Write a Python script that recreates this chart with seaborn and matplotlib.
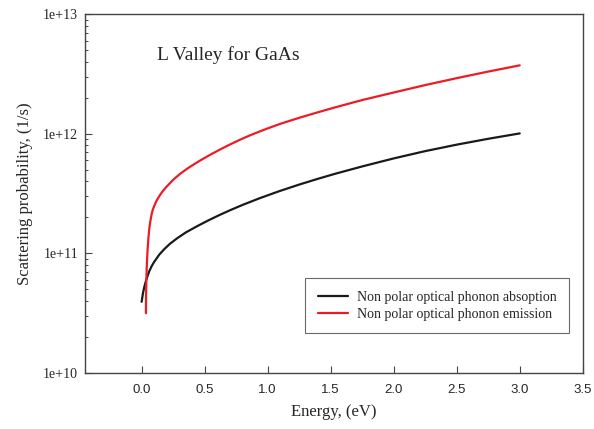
import numpy as np
import pandas as pd
import matplotlib
matplotlib.use("Agg")
import matplotlib.pyplot as plt
import seaborn as sns
from matplotlib.ticker import LogLocator, NullFormatter, FixedLocator

# Data
energy_abs = [0.0, 0.01, 0.02, 0.03, 0.04, 0.06, 0.08, 0.1, 0.14, 0.179, 0.224, 0.28, 0.35, 0.436,
              0.5, 0.543, 0.62, 0.7, 0.8, 0.938, 1.097, 1.255, 1.4, 1.533, 1.75, 2.0, 2.25, 2.5, 2.75, 3.0]
rate_abs = [3.94e10, 4.62e10, 5.19e10, 5.69e10, 6.17e10, 7.08e10, 7.85e10, 8.51e10, 9.77e10, 1.084e11,
            1.202e11, 1.334e11, 1.496e11, 1.679e11, 1.820e11, 1.919e11, 2.099e11, 2.291e11, 2.541e11,
            2.897e11, 3.327e11, 3.776e11, 4.207e11, 4.624e11, 5.333e11, 6.223e11, 7.161e11, 8.110e11,
            9.078e11, 1.007e12]
energy_em = [0.034, 0.035, 0.037, 0.04, 0.043, 0.047, 0.053, 0.06, 0.067, 0.074, 0.082, 0.09, 0.1,
             0.118, 0.135, 0.15, 0.175, 0.2, 0.25, 0.305, 0.364, 0.42, 0.47, 0.55, 0.621, 0.7, 0.78,
             0.86, 0.938, 1.0, 1.097, 1.255, 1.4, 1.533, 1.75, 2.0, 2.25, 2.5, 2.75, 3.0]
rate_em = [3.16e10, 4.37e10, 5.75e10, 7.41e10, 8.91e10, 1.072e11, 1.318e11, 1.585e11, 1.799e11, 1.995e11,
           2.188e11, 2.344e11, 2.495e11, 2.754e11, 2.951e11, 3.126e11, 3.388e11, 3.631e11, 4.121e11,
           4.624e11, 5.129e11, 5.598e11, 6.026e11, 6.730e11, 7.379e11, 8.128e11, 8.913e11, 9.705e11,
           1.047e12, 1.109e12, 1.208e12, 1.365e12, 1.514e12, 1.660e12, 1.914e12, 2.213e12, 2.553e12,
           2.917e12, 3.311e12, 3.733e12]
series_names = ["Non polar optical phonon absoption", "Non polar optical phonon emission"]
x_ticks = [0.0, 0.5, 1.0, 1.5, 2.0, 2.5, 3.0, 3.5]
y_ticks = [1e10, 1e11, 1e12, 1e13]
y_tick_labels = ["1e+10", "1e+11", "1e+12", "1e+13"]
title_text = "L Valley for GaAs"

df = pd.concat([
    pd.DataFrame({"E": energy_abs, "W": rate_abs, "s": series_names[0]}),
    pd.DataFrame({"E": energy_em, "W": rate_em, "s": series_names[1]}),
], ignore_index=True)

sns.set_style("ticks")
plt.rcParams["font.family"] = ["Liberation Serif", "DejaVu Serif"]

fig = plt.figure(figsize=(5.94, 4.29), dpi=100)
ax = fig.add_axes([0.143, 0.1305, 0.838, 0.8365])

palette = {series_names[0]: "#1a1a1a", series_names[1]: "#ec1c24"}
sns.lineplot(data=df, x="E", y="W", hue="s", palette=palette, estimator=None, sort=False,
             linewidth=1.6, ax=ax)

ax.set_yscale("log")
ax.set_xlim(-0.45, 3.5)
ax.set_ylim(1e10, 1e13)

ax.xaxis.set_major_locator(FixedLocator(x_ticks))
ax.set_xticklabels([f"{t:.1f}" for t in x_ticks], fontfamily="Liberation Sans", fontsize=9.5)
ax.yaxis.set_major_locator(FixedLocator(y_ticks))
ax.set_yticklabels(y_tick_labels, fontsize=10)
ax.yaxis.set_minor_locator(LogLocator(base=10, subs=np.arange(2, 10)))
ax.yaxis.set_minor_formatter(NullFormatter())
ax.xaxis.set_minor_locator(FixedLocator([]))

ax.tick_params(axis="both", which="major", direction="in", length=5, width=0.8, color="#444444", pad=5)
ax.tick_params(axis="y", which="minor", direction="in", length=2.5, width=0.7, color="#444444")
ax.tick_params(axis="x", pad=8)
for sp in ax.spines.values():
    sp.set_visible(True)
    sp.set_color("#444444")
    sp.set_linewidth(1.0)

ax.set_xlabel("Energy, (eV)", fontsize=12, labelpad=6)
ax.set_ylabel("Scattering probability, (1/s)", fontsize=12, labelpad=7)

ax.text(0.144, 0.872, title_text, transform=ax.transAxes, fontsize=14, ha="left", va="baseline")

leg = ax.legend(loc="lower right", bbox_to_anchor=(0.972, 0.111), frameon=True, fancybox=False,
                fontsize=10, handlelength=2.2, borderpad=0.9, labelspacing=0.3, borderaxespad=0,
                handletextpad=0.6)
leg.get_frame().set_edgecolor("#444444")
leg.get_frame().set_linewidth(0.8)
for line in leg.get_lines():
    line.set_linewidth(1.6)

fig.savefig("out.png", dpi=100)
